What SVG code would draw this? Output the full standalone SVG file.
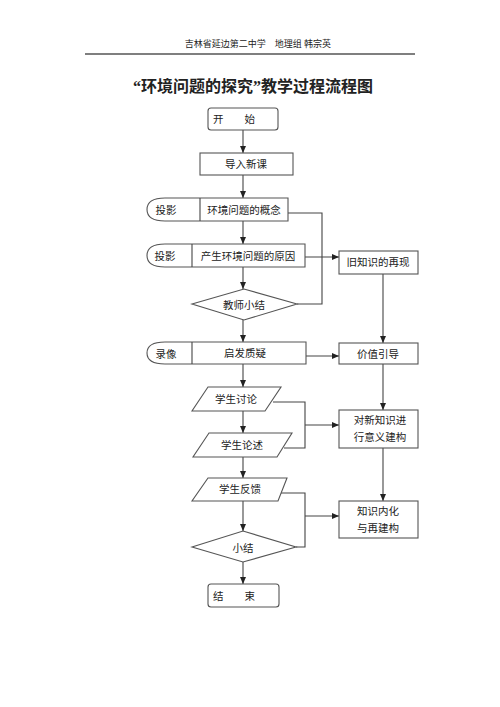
<svg xmlns="http://www.w3.org/2000/svg" width="500" height="707" viewBox="0 0 500 707">
<style>
text{font-family:"Liberation Serif","Noto Sans CJK SC",serif;fill:#222;}
.n{fill:#fff;stroke:#555;stroke-width:1.1;}
.t{font-size:10.5px;dominant-baseline:central;}
.c{text-anchor:middle;}
.l{fill:none;stroke:#444;stroke-width:1.1;}
</style>
<defs>
<marker id="ah" markerWidth="8" markerHeight="8" refX="7" refY="4" orient="auto" markerUnits="userSpaceOnUse">
<path d="M0,1 L7,4 L0,7 Z" fill="#222"/>
</marker>
</defs>
<rect width="500" height="707" fill="#fff"/>
<text x="258" y="47" class="c" style="font-size:9px">吉林省延边第二中学　地理组 韩宗英</text>
<line x1="85" y1="54" x2="415" y2="54" stroke="#555" stroke-width="1.3"/>
<text x="253" y="92" class="c" style="font-size:16px;font-weight:bold">“环境问题的探究”教学过程流程图</text>

<g id="connectors">
<line class="l" x1="243" y1="130" x2="243" y2="153" marker-end="url(#ah)"/>
<line class="l" x1="243" y1="175" x2="243" y2="198" marker-end="url(#ah)"/>
<line class="l" x1="243" y1="221" x2="243" y2="244" marker-end="url(#ah)"/>
<line class="l" x1="243" y1="267" x2="243" y2="289" marker-end="url(#ah)"/>
<polyline class="l" points="288,213 322,213 322,304 297,304"/>
<line class="l" x1="305" y1="257" x2="339" y2="257" marker-end="url(#ah)"/>
<line class="l" x1="383" y1="274" x2="383" y2="343" marker-end="url(#ah)"/>
<line class="l" x1="243" y1="320" x2="243" y2="342" marker-end="url(#ah)"/>
<line class="l" x1="306" y1="356" x2="339" y2="356" marker-end="url(#ah)"/>
<line class="l" x1="383" y1="364" x2="383" y2="410" marker-end="url(#ah)"/>
<line class="l" x1="243" y1="364" x2="243" y2="387" marker-end="url(#ah)"/>
<line class="l" x1="243" y1="411" x2="243" y2="433" marker-end="url(#ah)"/>
<line class="l" x1="243" y1="457" x2="243" y2="478" marker-end="url(#ah)"/>
<polyline class="l" points="273,402 305,402 305,448 284,448"/>
<line class="l" x1="305" y1="425" x2="339" y2="425" marker-end="url(#ah)"/>
<line class="l" x1="383" y1="448" x2="383" y2="501" marker-end="url(#ah)"/>
<polyline class="l" points="279,493 305,493 305,547 296,547"/>
<line class="l" x1="305" y1="516" x2="339" y2="516" marker-end="url(#ah)"/>
<line class="l" x1="243" y1="501" x2="243" y2="531" marker-end="url(#ah)"/>
<line class="l" x1="243" y1="562" x2="243" y2="584" marker-end="url(#ah)"/>
</g>

<g id="start">
<rect class="n" x="208" y="108" width="70" height="22" rx="3"/>
<text x="213" y="119" class="t">开　　始</text>
</g>
<g id="intro">
<rect class="n" x="200" y="153" width="93" height="22"/>
<text x="246" y="164" class="t c">导入新课</text>
</g>
<g id="concept">
<path class="n" d="M147,209.5 C147,202 153,198 165,198 H288 V221 H165 C153,221 147,217 147,209.5 Z"/>
<line class="l" x1="200" y1="198" x2="200" y2="221"/>
<text x="166" y="210" class="t c">投影</text>
<text x="244" y="210" class="t c">环境问题的概念</text>
</g>
<g id="cause">
<path class="n" d="M147,255.5 C147,248 153,244 165,244 H305 V267 H165 C153,267 147,263 147,255.5 Z"/>
<line class="l" x1="192" y1="244" x2="192" y2="267"/>
<text x="165" y="256" class="t c">投影</text>
<text x="248" y="256" class="t c">产生环境问题的原因</text>
</g>
<g id="teacher-summary">
<polygon class="n" points="192,304 244,289 297,304 244,320"/>
<text x="244" y="305" class="t c">教师小结</text>
</g>
<g id="inspire">
<path class="n" d="M147,353 C147,346 153,342 165,342 H306 V364 H165 C153,364 147,360 147,353 Z"/>
<line class="l" x1="192" y1="342" x2="192" y2="364"/>
<text x="166" y="354" class="t c">录像</text>
<text x="245" y="353" class="t c">启发质疑</text>
</g>
<g id="old-knowledge">
<rect class="n" x="339" y="251" width="79" height="23"/>
<text x="378" y="262" class="t c">旧知识的再现</text>
</g>
<g id="value">
<rect class="n" x="339" y="343" width="79" height="21"/>
<text x="378" y="354" class="t c">价值引导</text>
</g>
<g id="construct">
<rect class="n" x="339" y="410" width="79" height="38"/>
<text x="380" y="420" class="t c">对新知识进</text>
<text x="380" y="437" class="t c">行意义建构</text>
</g>
<g id="internalize">
<rect class="n" x="339" y="501" width="79" height="37"/>
<text x="378" y="511" class="t c">知识内化</text>
<text x="378" y="528" class="t c">与再建构</text>
</g>
<g id="discuss">
<polygon class="n" points="208,387 281,387 265,411 192,411"/>
<text x="236" y="399" class="t c">学生讨论</text>
</g>
<g id="describe">
<polygon class="n" points="209,433 292,433 277,457 193,457"/>
<text x="242" y="445" class="t c">学生论述</text>
</g>
<g id="feedback">
<polygon class="n" points="208,478 287,478 278,501 192,501"/>
<text x="240" y="489" class="t c">学生反馈</text>
</g>
<g id="summary">
<polygon class="n" points="192,547 243,531 296,547 243,562"/>
<text x="243" y="548" class="t c">小结</text>
</g>
<g id="end">
<rect class="n" x="208" y="584" width="71" height="23" rx="3"/>
<text x="213" y="596" class="t">结　　束</text>
</g>
</svg>
